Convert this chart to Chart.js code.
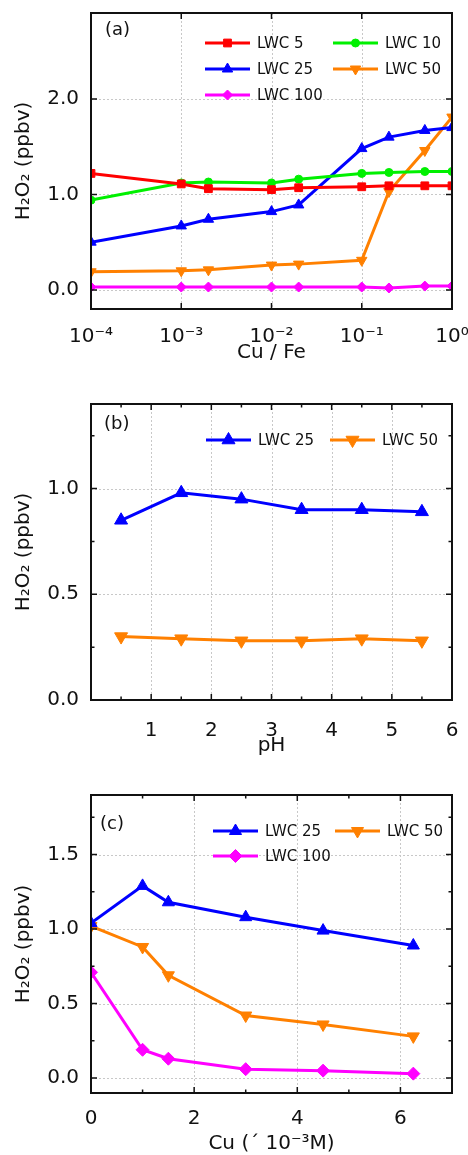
<!DOCTYPE html>
<html>
<head>
<meta charset="utf-8">
<script src="https://cdn.jsdelivr.net/npm/chart.js@4.4.0/dist/chart.umd.min.js"></script>
<style>
  html, body { margin: 0; padding: 0; background: #fff; overflow: hidden; }
  body { width: 468px; height: 1155px; position: relative; }
  canvas { position: absolute; left: 0; }
</style>
</head>
<body>
<canvas id="chartA" width="490" height="375" style="top:0px"></canvas>
<canvas id="chartB" width="490" height="385" style="top:380px"></canvas>
<canvas id="chartC" width="490" height="382" style="top:775px"></canvas>
<script>
// panel (a): H2O2 vs Cu/Fe ratio
const cuFe = [1e-4, 1e-3, 2e-3, 1e-2, 2e-2, 1e-1, 2e-1, 5e-1, 1];
const aLwc5   = [1.22, 1.11, 1.06, 1.05, 1.07, 1.08, 1.09, 1.09, 1.09];
const aLwc10  = [0.94, 1.12, 1.13, 1.12, 1.16, 1.22, 1.23, 1.24, 1.24];
const aLwc25  = [0.50, 0.67, 0.74, 0.82, 0.89, 1.48, 1.60, 1.67, 1.70];
const aLwc50  = [0.19, 0.20, 0.21, 0.26, 0.27, 0.31, 1.03, 1.46, 1.81];
const aLwc100 = [0.03, 0.03, 0.03, 0.03, 0.03, 0.03, 0.02, 0.04, 0.04];
const aTicksX = [1e-4, 1e-3, 1e-2, 1e-1, 1];
const aLabelsX = ['10⁻⁴', '10⁻³', '10⁻²', '10⁻¹', '10⁰'];
const aTicksY = [0, 1, 2];

// panel (b): H2O2 vs pH
const pH = [0.5, 1.5, 2.5, 3.5, 4.5, 5.5];
const bLwc25 = [0.85, 0.98, 0.95, 0.90, 0.90, 0.89];
const bLwc50 = [0.30, 0.29, 0.28, 0.28, 0.29, 0.28];
const bTicksX = [1, 2, 3, 4, 5, 6];
const bMinorX = [0.5, 1.5, 2.5, 3.5, 4.5, 5.5];
const bTicksY = [0, 0.5, 1.0];
const bMinorY = [0.25, 0.75, 1.25];

// panel (c): H2O2 vs Cu concentration
const cuConc = [0, 1, 1.5, 3, 4.5, 6.25];
const cLwc25  = [1.04, 1.29, 1.18, 1.08, 0.99, 0.89];
const cLwc50  = [1.02, 0.88, 0.69, 0.42, 0.36, 0.28];
const cLwc100 = [0.71, 0.19, 0.13, 0.06, 0.05, 0.03];
const cTicksX = [0, 2, 4, 6];
const cMinorX = [1, 3, 5];
const cTicksY = [0, 0.5, 1.0, 1.5];
const cMinorY = [0.25, 0.75, 1.25, 1.75];

const FONT = 'DejaVu Sans';
const INK = '#111';
const RED = '#ff0000', GREEN = '#00f000', BLUE = '#0000ff', ORANGE = '#ff8000', MAGENTA = '#ff00ff';

function pairs(xs, ys) {
    return xs.map((x, i) => ({ x: x, y: ys[i] }));
}

function series(label, xs, ys, color, style, radius, rotation) {
    return {
        label: label,
        data: pairs(xs, ys),
        borderColor: color,
        backgroundColor: color,
        borderWidth: 3,
        pointStyle: style,
        pointRadius: radius,
        pointHoverRadius: radius,
        pointRotation: rotation || 0,
        pointBackgroundColor: color,
        pointBorderColor: color,
        pointBorderWidth: 1,
        tension: 0,
        clip: 0
    };
}

// grid, inward ticks, frame, legend and panel letter
const framePlugin = {
    id: 'frame',
    beforeDatasetsDraw(chart, args, opts) {
        const { ctx, chartArea: a } = chart;
        const sx = chart.scales.x, sy = chart.scales.y;
        ctx.save();
        ctx.strokeStyle = '#c8c8c8';
        ctx.lineWidth = 1;
        ctx.setLineDash([2, 2]);
        sx.ticks.forEach(t => {
            const px = Math.round(sx.getPixelForValue(t.value)) + 0.5;
            if (px < a.left + 3 || px > a.right - 3) return;
            ctx.beginPath(); ctx.moveTo(px, a.top); ctx.lineTo(px, a.bottom); ctx.stroke();
        });
        sy.ticks.forEach(t => {
            const py = Math.round(sy.getPixelForValue(t.value)) + 0.5;
            if (py < a.top + 3 || py > a.bottom - 3) return;
            ctx.beginPath(); ctx.moveTo(a.left, py); ctx.lineTo(a.right, py); ctx.stroke();
        });
        ctx.restore();
    },
    afterDatasetsDraw(chart, args, opts) {
        const { ctx, chartArea: a } = chart;
        const sx = chart.scales.x, sy = chart.scales.y;
        ctx.save();
        ctx.strokeStyle = INK;
        ctx.lineWidth = 1.5;
        const tickX = (v, len) => {
            const px = sx.getPixelForValue(v);
            ctx.beginPath();
            ctx.moveTo(px, a.bottom); ctx.lineTo(px, a.bottom - len);
            ctx.moveTo(px, a.top); ctx.lineTo(px, a.top + len);
            ctx.stroke();
        };
        const tickY = (v, len) => {
            const py = sy.getPixelForValue(v);
            ctx.beginPath();
            ctx.moveTo(a.left, py); ctx.lineTo(a.left + len, py);
            ctx.moveTo(a.right, py); ctx.lineTo(a.right - len, py);
            ctx.stroke();
        };
        sx.ticks.forEach(t => tickX(t.value, 6));
        sy.ticks.forEach(t => tickY(t.value, 6));
        (opts.minorX || []).forEach(v => tickX(v, 3.5));
        (opts.minorY || []).forEach(v => tickY(v, 3.5));
        ctx.lineWidth = 2;
        ctx.strokeRect(a.left, a.top, a.right - a.left, a.bottom - a.top);
        ctx.restore();
    },
    afterDraw(chart, args, opts) {
        const ctx = chart.ctx;
        ctx.save();
        ctx.textBaseline = 'middle';
        ctx.textAlign = 'left';
        ctx.fillStyle = INK;
        ctx.font = '18px "' + FONT + '"';
        ctx.fillText(opts.label, opts.labelX, opts.labelY);

        ctx.font = '15px "' + FONT + '"';
        opts.legend.forEach(item => {
            const ds = chart.data.datasets[item.i];
            ctx.strokeStyle = ds.borderColor;
            ctx.fillStyle = ds.borderColor;
            ctx.lineWidth = 3;
            ctx.beginPath();
            ctx.moveTo(item.x, item.y); ctx.lineTo(item.x + 45, item.y);
            ctx.stroke();
            ctx.lineWidth = 1;
            Chart.helpers.drawPoint(ctx, {
                pointStyle: ds.pointStyle,
                rotation: ds.pointRotation,
                radius: ds.pointRadius,
                borderWidth: 1
            }, item.x + 22.5, item.y);
            ctx.fillStyle = INK;
            ctx.fillText(ds.label, item.x + 52, item.y + 1);
        });
        ctx.restore();
    }
};

function makeChart(id, cfg) {
    const tickFont = { family: FONT, size: 20 };
    return new Chart(document.getElementById(id), {
        type: 'line',
        data: { datasets: cfg.datasets },
        options: {
            responsive: false,
            animation: false,
            devicePixelRatio: 1,
            layout: { padding: { top: cfg.top, right: 38, left: 0, bottom: 0 } },
            plugins: {
                legend: { display: false },
                tooltip: { enabled: false },
                frame: cfg.frame
            },
            scales: {
                x: {
                    type: cfg.xType,
                    min: cfg.xMin,
                    max: cfg.xMax,
                    grid: { display: false },
                    border: { display: false },
                    afterBuildTicks: s => { s.ticks = cfg.xTicks.map(v => ({ value: v })); },
                    afterFit: s => { s.height = cfg.xHeight; s.paddingLeft = 0; s.paddingRight = 0; },
                    ticks: {
                        callback: cfg.xLabel,
                        padding: cfg.xPad,
                        font: tickFont,
                        color: INK,
                        maxRotation: 0,
                        autoSkip: false
                    },
                    title: {
                        display: true,
                        text: cfg.xTitle,
                        font: tickFont,
                        color: INK,
                        padding: { top: 0, bottom: cfg.xTitlePad }
                    }
                },
                y: {
                    type: 'linear',
                    min: cfg.yMin,
                    max: cfg.yMax,
                    grid: { display: false },
                    border: { display: false },
                    afterBuildTicks: s => { s.ticks = cfg.yTicks.map(v => ({ value: v })); },
                    afterFit: s => { s.width = 91; s.paddingTop = 0; s.paddingBottom = 0; },
                    ticks: {
                        callback: v => v.toFixed(1),
                        padding: 4,
                        font: tickFont,
                        color: INK,
                        autoSkip: false
                    },
                    title: {
                        display: true,
                        text: 'H₂O₂ (ppbv)',
                        font: tickFont,
                        color: INK,
                        padding: { top: 12, bottom: 0 }
                    }
                }
            }
        },
        plugins: [framePlugin]
    });
}

makeChart('chartA', {
    datasets: [
        series('LWC 5', cuFe, aLwc5, RED, 'rect', 5.5),
        series('LWC 10', cuFe, aLwc10, GREEN, 'circle', 4),
        series('LWC 25', cuFe, aLwc25, BLUE, 'triangle', 6),
        series('LWC 50', cuFe, aLwc50, ORANGE, 'triangle', 6, 180),
        series('LWC 100', cuFe, aLwc100, MAGENTA, 'rectRot', 5)
    ],
    top: 13,
    xType: 'logarithmic', xMin: 1e-4, xMax: 1,
    xTicks: aTicksX,
    xLabel: (v, i) => aLabelsX[i],
    xTitle: 'Cu / Fe',
    xHeight: 66, xPad: 8, xTitlePad: 10,
    yMin: -0.2, yMax: 2.9, yTicks: aTicksY,
    frame: {
        label: '(a)', labelX: 105, labelY: 30,
        legend: [
            { i: 0, x: 205, y: 43 }, { i: 1, x: 333, y: 43 },
            { i: 2, x: 205, y: 69 }, { i: 3, x: 333, y: 69 },
            { i: 4, x: 205, y: 95 }
        ]
    }
});

makeChart('chartB', {
    datasets: [
        series('LWC 25', pH, bLwc25, BLUE, 'triangle', 7.5),
        series('LWC 50', pH, bLwc50, ORANGE, 'triangle', 7.5, 180)
    ],
    top: 24,
    xType: 'linear', xMin: 0, xMax: 6,
    xTicks: bTicksX,
    xLabel: v => String(v),
    xTitle: 'pH',
    xHeight: 65, xPad: 11, xTitlePad: 7,
    yMin: 0, yMax: 1.4, yTicks: bTicksY,
    frame: {
        label: '(b)', labelX: 104, labelY: 44,
        minorX: bMinorX, minorY: bMinorY,
        legend: [ { i: 0, x: 206, y: 60 }, { i: 1, x: 330, y: 60 } ]
    }
});

makeChart('chartC', {
    datasets: [
        series('LWC 25', cuConc, cLwc25, BLUE, 'triangle', 7),
        series('LWC 50', cuConc, cLwc50, ORANGE, 'triangle', 7, 180),
        series('LWC 100', cuConc, cLwc100, MAGENTA, 'rectRot', 6.5)
    ],
    top: 20,
    xType: 'linear', xMin: 0, xMax: 7,
    xTicks: cTicksX,
    xLabel: v => String(v),
    xTitle: 'Cu (´ 10⁻³M)',
    xHeight: 64, xPad: 6, xTitlePad: 1,
    yMin: -0.1, yMax: 1.9, yTicks: cTicksY,
    frame: {
        label: '(c)', labelX: 100, labelY: 49,
        minorX: cMinorX, minorY: cMinorY,
        legend: [
            { i: 0, x: 213, y: 56 }, { i: 1, x: 335, y: 56 },
            { i: 2, x: 213, y: 81 }
        ]
    }
});
</script>
</body>
</html>
